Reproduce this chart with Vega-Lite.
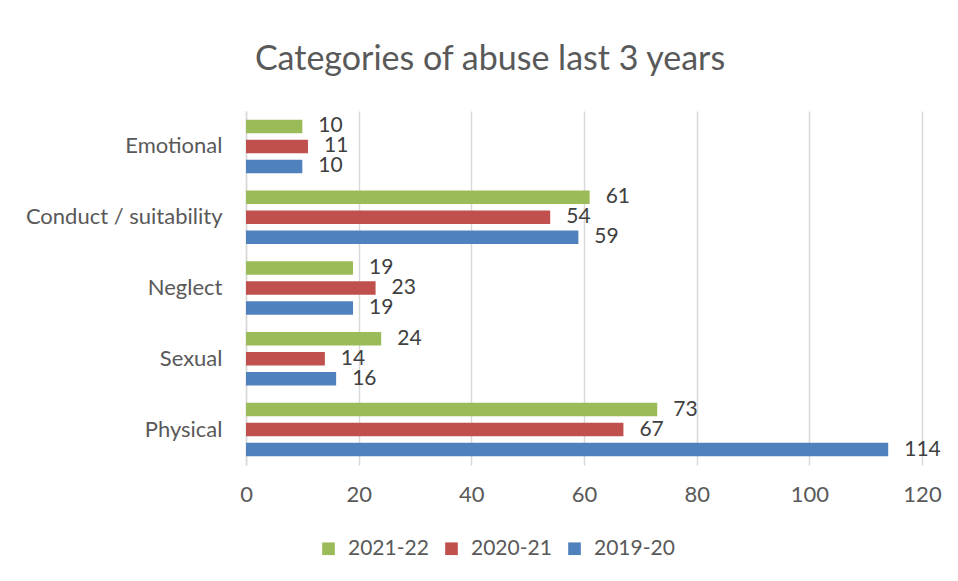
{
  "$schema": "https://vega.github.io/schema/vega-lite/v6.json",
  "autosize": "none",
  "width": 676,
  "height": 354,
  "padding": {"left": 246, "top": 111, "right": 36, "bottom": 116},
  "background": "white",
  "title": {
    "text": "Categories of abuse last 3 years",
    "fontSize": 34,
    "font": "Lato",
    "fontWeight": "normal",
    "color": "#595959",
    "dx": -94,
    "offset": 34
  },
  "data": {
    "values": [
      {"category": "Emotional", "year": "2021-22", "value": 10},
      {"category": "Emotional", "year": "2020-21", "value": 11},
      {"category": "Emotional", "year": "2019-20", "value": 10},
      {"category": "Conduct / suitability", "year": "2021-22", "value": 61},
      {"category": "Conduct / suitability", "year": "2020-21", "value": 54},
      {"category": "Conduct / suitability", "year": "2019-20", "value": 59},
      {"category": "Neglect", "year": "2021-22", "value": 19},
      {"category": "Neglect", "year": "2020-21", "value": 23},
      {"category": "Neglect", "year": "2019-20", "value": 19},
      {"category": "Sexual", "year": "2021-22", "value": 24},
      {"category": "Sexual", "year": "2020-21", "value": 14},
      {"category": "Sexual", "year": "2019-20", "value": 16},
      {"category": "Physical", "year": "2021-22", "value": 73},
      {"category": "Physical", "year": "2020-21", "value": 67},
      {"category": "Physical", "year": "2019-20", "value": 114}
    ]
  },
  "encoding": {
    "y": {
      "field": "category",
      "type": "nominal",
      "sort": ["Emotional", "Conduct / suitability", "Neglect", "Sexual", "Physical"],
      "scale": {"paddingInner": 0.245, "paddingOuter": 0.1225},
      "axis": {
        "title": null,
        "ticks": false,
        "domain": true,
        "domainColor": "#d9d9d9",
        "domainWidth": 1.5,
        "labelFontSize": 22,
        "labelFont": "Lato",
        "labelColor": "#595959",
        "labelPadding": 24,
        "labelLimit": 300
      }
    },
    "yOffset": {
      "field": "year",
      "type": "nominal",
      "sort": ["2021-22", "2020-21", "2019-20"],
      "scale": {"paddingInner": 0.325, "paddingOuter": 0}
    },
    "x": {
      "field": "value",
      "type": "quantitative",
      "scale": {"domain": [0, 120], "nice": false},
      "axis": {
        "title": null,
        "values": [0, 20, 40, 60, 80, 100, 120],
        "domain": false,
        "ticks": false,
        "grid": true,
        "gridColor": "#d9d9d9",
        "gridWidth": 1.5,
        "labelFontSize": 22,
        "labelFont": "Lato",
        "labelColor": "#595959",
        "labelPadding": 19,
        "labelFlush": false
      }
    }
  },
  "layer": [
    {
      "mark": {"type": "bar"},
      "encoding": {
        "color": {
          "field": "year",
          "type": "nominal",
          "scale": {
            "domain": ["2021-22", "2020-21", "2019-20"],
            "range": ["#9bbb59", "#c0504d", "#4f81bd"]
          },
          "legend": {
            "title": null,
            "orient": "none",
            "direction": "horizontal",
            "legendX": 72,
            "legendY": 427,
            "symbolType": "square",
            "symbolSize": 160,
            "symbolStrokeWidth": 0,
            "labelFontSize": 21,
            "labelFont": "Lato",
            "labelColor": "#595959",
            "labelOffset": 9,
            "columnPadding": 12
          }
        }
      }
    },
    {
      "mark": {
        "type": "text",
        "align": "left",
        "baseline": "middle",
        "dx": 16,
        "fontSize": 21,
        "font": "Lato",
        "color": "#404040"
      },
      "encoding": {
        "text": {"field": "value", "type": "quantitative"}
      }
    }
  ],
  "config": {"view": {"stroke": null}}
}
